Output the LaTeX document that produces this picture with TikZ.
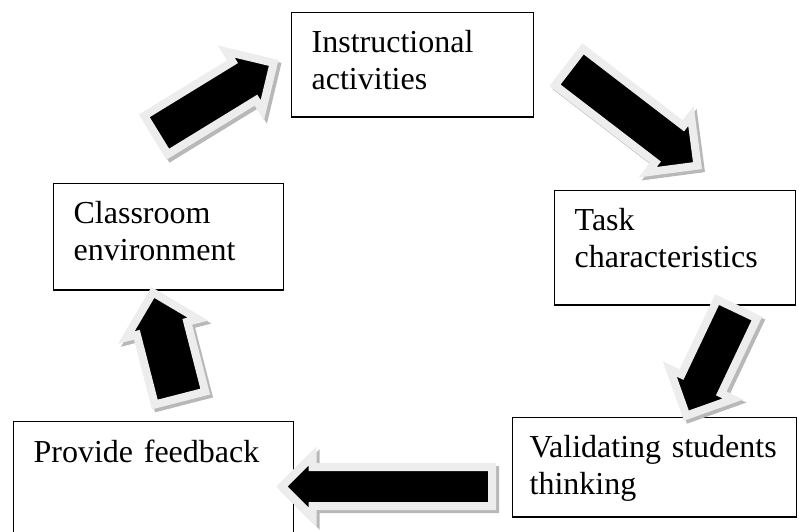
\documentclass[tikz,border=0pt]{standalone}
\usepackage{fontspec}
\setmainfont{Liberation Serif}
\usetikzlibrary{positioning,shapes.arrows,shadows}
\tikzset{
  stagebox/.style={draw, line width=1.3pt, anchor=north west, align=left, inner xsep=20pt, inner ysep=18pt, font=\fontsize{32}{37}\selectfont},
  blockarrow/.style={single arrow, fill=black, draw=black!7, line width=8pt, inner xsep=0pt, anchor=tail,
    drop shadow={shadow xshift=3pt, shadow yshift=-3pt, fill=black!28, draw=black!28, line width=8pt, opacity=1}},
}

\begin{document}
\begin{tikzpicture}[x=1pt, y=-1pt]
    \useasboundingbox (0,0) rectangle (799,531);
    % stages
    \node[stagebox, text width=202pt, text depth=46pt] (instr) at (291,12) {Instructional\\activities};
    \node[stagebox, text width=201pt, text depth=56pt] (task) at (554,190) {Task\\characteristics};
    \node[stagebox, text width=250pt, inner xsep=17pt, text depth=41pt] (valid) at (512,417) {Validating students\\thinking};
    \node[stagebox, text width=240pt, text depth=69pt] (feedback) at (13,421) {Provide feedback};
    \node[stagebox, text width=190pt, text depth=48pt] (class) at (53,183) {Classroom\\environment};
    % block arrows
    \node[blockarrow, rotate=31.5, minimum height=138pt, inner ysep=18.5pt, single arrow head extend=12pt] (a1) at (152.6,137.1) {};
    \node[blockarrow, rotate=-37.5, minimum height=162pt, inner ysep=19pt, single arrow head extend=12.5pt] (a2) at (565.8,64.6) {};
    \node[blockarrow, rotate=-115.4, minimum height=118pt, inner ysep=18pt, single arrow head extend=13pt] (a3) at (738.7,305.4) {};
    \node[blockarrow, rotate=180, minimum height=210pt, inner ysep=15.5pt, single arrow head extend=11pt] (a4) at (496,486.5) {};
    \node[blockarrow, rotate=104.4, minimum height=109pt, inner ysep=22pt, single arrow head extend=11pt] (a5) at (181,401.9) {};
\end{tikzpicture}
\end{document}
